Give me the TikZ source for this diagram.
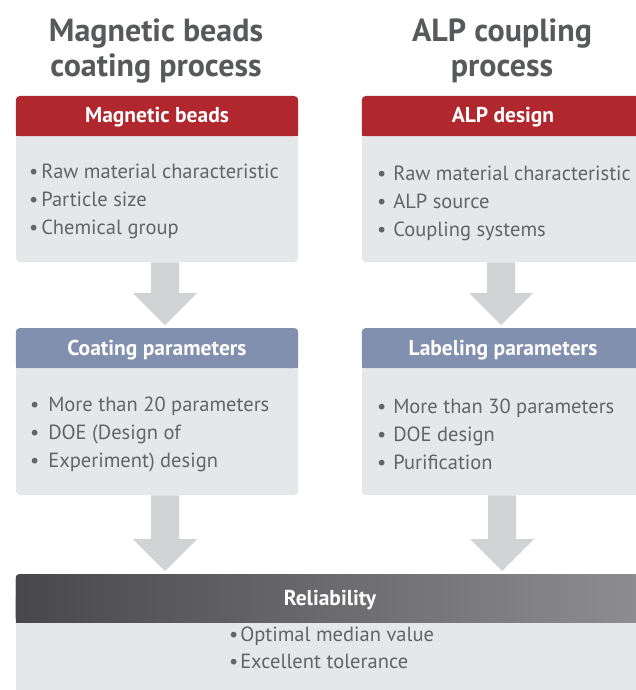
\documentclass[tikz,border=0pt]{standalone}
\usepackage{fontspec}
\setmainfont{PT Sans}
\usetikzlibrary{calc}
\definecolor{beadred}{HTML}{B0282E}
\definecolor{paramblue}{HTML}{8190AE}
\definecolor{cardgray}{HTML}{E6E7E8}
\definecolor{arrowgray}{HTML}{D1D3D4}
\definecolor{titlegray}{HTML}{58595B}
\definecolor{itemgray}{HTML}{636466}
\definecolor{relleft}{HTML}{48484A}
\definecolor{relright}{HTML}{8E8E92}
\tikzset{
  card/.style={fill=cardgray,rounded corners=4pt,minimum width=282pt,inner sep=0pt,anchor=north},
  headtext/.style={text=white,font=\fontsize{21.5}{21.5}\selectfont\bfseries,inner sep=0pt,anchor=base},
  itemtext/.style={text=itemgray,font=\fontsize{20.5}{28}\selectfont,inner sep=0pt,anchor=base west},
  titletext/.style={text=titlegray,font=\fontsize{32}{35}\selectfont\bfseries,align=center,inner sep=0pt},
  bigarrow/.style={fill=arrowgray}
}
% header band on top of a card: node, height, fill options
\newcommand{\cardhead}[3]{%
  \fill[#3,rounded corners=4pt] (#1.north west) rectangle ($(#1.north east)+(0,#2)$);
  \fill[#3] ($(#1.north west)+(0,#2/2)$) rectangle ($(#1.north east)+(0,#2)$);}
% fat arrow from one card to the next: from, to, x offset
\newcommand{\fatarrow}[3]{%
  \coordinate (atail) at ($(#1.south)+(#3,0)$);
  \coordinate (atip) at (atail |- #2.north);
  \fill[bigarrow] ($(atail)+(-14,0)$) -- ($(atail)+(14,0)$)
    -- ($(atip)+(14,-35)$) -- ($(atip)+(32,-35)$) -- ($(atip)+(0,-3)$)
    -- ($(atip)+(-32,-35)$) -- ($(atip)+(-14,-35)$) -- cycle;}

\begin{document}
\begin{tikzpicture}[x=1pt,y=-1pt]
  \useasboundingbox (0,0) rectangle (636,690);
  \clip (0,0) rectangle (636,690);
  \fill[white] (0,0) rectangle (636,690);

  \node[titletext] (lefttitle) at (156,51) {Magnetic beads\\coating process};
  \node[titletext] (righttitle) at (502,51) {ALP coupling\\process};

  % cards
  \node[card,minimum height=166pt] (beadcard) at (157,96) {};
  \node[card,minimum height=166pt] (alpcard) at (503,96) {};
  \node[card,minimum height=167pt] (coatcard) at (157,328) {};
  \node[card,minimum height=167pt] (labelcard) at (503,328) {};
  \node[card,minimum width=628pt,minimum height=130pt] (relcard) at (330,574) {};

  \cardhead{beadcard}{40}{beadred}
  \cardhead{alpcard}{40}{beadred}
  \cardhead{coatcard}{40}{paramblue}
  \cardhead{labelcard}{40}{paramblue}
  \cardhead{relcard}{48}{left color=relleft,right color=relright}

  \node[headtext] (beadhead) at ($(beadcard.north)+(0,27)$) {Magnetic beads};
  \node[headtext] (alphead) at ($(alpcard.north)+(0,27)$) {ALP design};
  \node[headtext] (coathead) at ($(coatcard.north)+(0,27)$) {Coating parameters};
  \node[headtext] (labelhead) at ($(labelcard.north)+(0,27)$) {Labeling parameters};
  \node[headtext] (relhead) at ($(relcard.north)+(0,31)$) {Reliability};

  % bullet items
  \foreach \txt [count=\i] in {Raw material characteristic,Particle size,Chemical group}
    \node[itemtext] (beaditem\i) at ($(beadcard.north west)+(13,54+28*\i)$) {\textbullet\hspace{3pt}\txt};
  \foreach \txt [count=\i] in {Raw material characteristic,ALP source,Coupling systems}
    \node[itemtext] (alpitem\i) at ($(alpcard.north west)+(15,56+28*\i)$) {\textbullet\hspace{7pt}\txt};
  \foreach \txt [count=\i] in {More than 20 parameters,DOE (Design of,Experiment) design}
    \node[itemtext] (coatitem\i) at ($(coatcard.north west)+(14,55+28*\i)$) {\textbullet\hspace{9pt}\txt};
  \foreach \txt [count=\i] in {More than 30 parameters,DOE design,Purification}
    \node[itemtext] (labelitem\i) at ($(labelcard.north west)+(15,57+28*\i)$) {\textbullet\hspace{7pt}\txt};
  \foreach \txt [count=\i] in {Optimal median value,Excellent tolerance}
    \node[itemtext] (relitem\i) at ($(relcard.north west)+(213,40+27*\i)$) {\textbullet\hspace{2pt}\txt};

  % arrows
  \fatarrow{beadcard}{coatcard}{8}
  \fatarrow{alpcard}{labelcard}{-2}
  \fatarrow{coatcard}{relcard}{8}
  \fatarrow{labelcard}{relcard}{-1}
\end{tikzpicture}
\end{document}
